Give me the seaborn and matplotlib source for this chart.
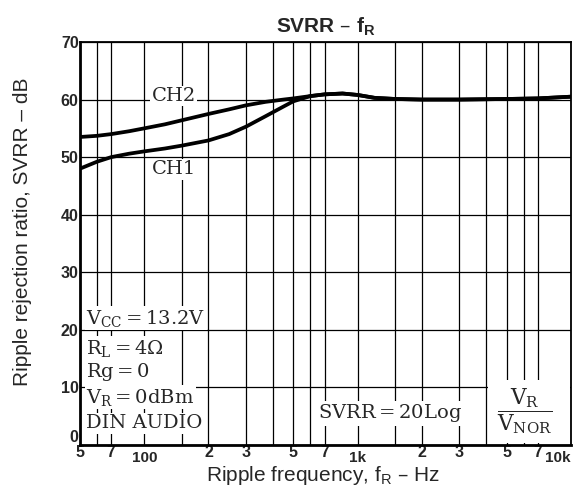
import matplotlib
matplotlib.use('Agg')
import pandas as pd
import seaborn as sns
import matplotlib.pyplot as plt
from matplotlib.patches import Rectangle

# Values (Hz, dB)
freq = [50, 60, 70, 85, 100, 125, 150, 200, 250, 300, 370, 450, 500,
        600, 700, 850, 1000, 1200, 1500, 2000, 3000, 5000, 7000, 10000]
ch2 = [53.5, 53.7, 54.0, 54.5, 55.0, 55.7, 56.4, 57.5, 58.3, 59.0, 59.6, 60.0, 60.2,
       60.6, 60.9, 61.05, 60.8, 60.3, 60.1, 60.0, 60.0, 60.1, 60.2, 60.5]
ch1 = [48.0, 49.2, 50.0, 50.6, 51.0, 51.5, 52.0, 52.9, 54.0, 55.3, 57.1, 58.8, 59.7,
       60.6, 60.9, 61.05, 60.8, 60.3, 60.1, 60.0, 60.0, 60.1, 60.2, 60.5]

major_ticks = [100, 1000, 10000]
major_labels = ['100', '1k', '10k']
minor_ticks = [50, 60, 70, 150, 200, 300, 400, 500, 600, 700,
               1500, 2000, 3000, 4000, 5000, 6000, 7000]
minor_labels = ['5', '', '7', '', '2', '3', '', '5', '', '7',
                '', '2', '3', '', '5', '', '7']
y_ticks = [0, 10, 20, 30, 40, 50, 60, 70]

conditions = [r'$\mathrm{V_{CC}=13.2V}$', r'$\mathrm{R_L=4\Omega}$', r'$\mathrm{Rg=0}$',
              r'$\mathrm{V_R=0dBm}$', 'DIN AUDIO']
cond_y = [22.0, 16.8, 12.6, 8.3, 3.8]

df = pd.DataFrame({
    'freq': freq * 2,
    'svrr': ch1 + ch2,
    'channel': ['CH1'] * len(freq) + ['CH2'] * len(freq),
})

sns.set_style("white")
plt.rcParams['font.family'] = ['Liberation Sans', 'DejaVu Sans']
plt.rcParams['mathtext.fontset'] = 'dejavuserif'

fig = plt.figure(figsize=(5.74, 4.87), dpi=100)
ax = fig.add_axes([0.1394, 0.0862, 0.8554, 0.8276])

sns.lineplot(data=df, x='freq', y='svrr', hue='channel',
             palette={'CH1': 'black', 'CH2': 'black'}, linewidth=2.7,
             legend=False, ax=ax, zorder=3)

ax.set_xscale('log')
ax.set_xlim(50, 10000)
ax.set_ylim(0, 70)

ax.set_xticks(major_ticks, major_labels)
ax.set_xticks(minor_ticks, minor_labels, minor=True)
ax.set_yticks(y_ticks, [str(v) for v in y_ticks])
ax.grid(which='both', color='black', linewidth=0.9)
ax.set_axisbelow(True)

ax.tick_params(axis='x', which='major', length=0, pad=4, labelsize=11)
ax.tick_params(axis='x', which='minor', length=0, pad=0, labelsize=11.5)
ax.tick_params(axis='y', length=0, pad=1, labelsize=11.5)
for lab in ax.get_xticklabels(which='both') + ax.get_yticklabels():
    lab.set_fontweight('bold')
ax.get_xticklabels()[-1].set_ha('right')
ax.get_yticklabels()[0].set_va('bottom')

for sp in ax.spines.values():
    sp.set_color('black')
    sp.set_linewidth(1.3)
ax.spines['left'].set_linewidth(2)
ax.spines['bottom'].set_linewidth(2)

ax.set_title(r'SVRR – f$_{\mathregular{R}}$', fontsize=15, fontweight='bold', pad=7)
ax.set_xlabel(r'Ripple frequency, f$_{\mathregular{R}}$ – Hz', fontsize=15)
ax.set_ylabel('Ripple rejection ratio, SVRR – dB', fontsize=15)
ax.xaxis.set_label_coords(0.495, -0.046)
ax.yaxis.set_label_coords(-0.098, 0.53)

white = dict(facecolor='white', edgecolor='none', pad=1)
serif = ['DejaVu Serif']
ax.text(108, 60.6, 'CH2', family=serif, fontsize=14, va='center', bbox=white, zorder=4)
ax.text(109, 47.9, 'CH1', family=serif, fontsize=14, va='center', bbox=white, zorder=4)

for txt, yy in zip(conditions, cond_y):
    ax.text(53.5, yy, txt, family=serif, fontsize=14, va='center', bbox=white, zorder=4)

ax.add_patch(Rectangle((4100, 0.3), 5800, 11.0, facecolor='white',
                       edgecolor='none', zorder=1))
ax.text(650, 5.5, r'$\mathrm{SVRR=20Log}$', family=serif, fontsize=14,
        va='center', bbox=white, zorder=4)
ax.text(6100, 5.9, r'$\dfrac{\mathrm{V_R}}{\mathrm{V_{NOR}}}$', family=serif,
        fontsize=15.5, ha='center', va='center', zorder=4)

fig.savefig('out.png', dpi=100)
